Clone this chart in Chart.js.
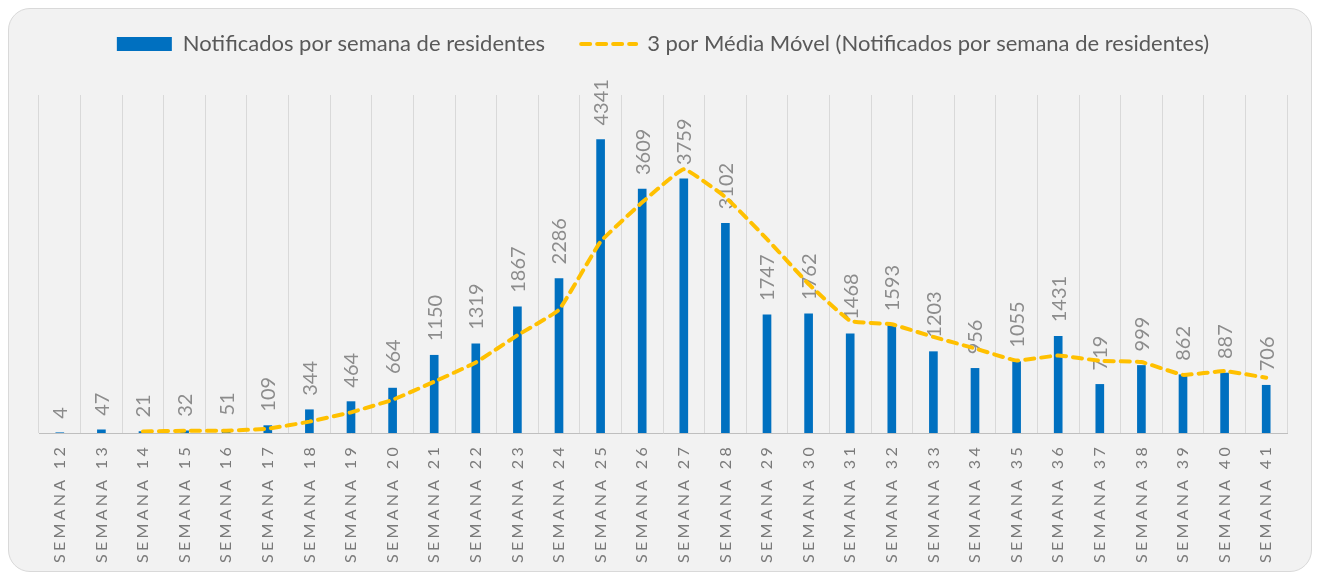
<!DOCTYPE html>
<html><head><meta charset="utf-8">
<script src="https://cdn.jsdelivr.net/npm/chart.js@4.4.1/dist/chart.umd.min.js"></script>
<style>
html,body{margin:0;padding:0;background:#fff;}
#box{position:absolute;left:8px;top:8px;width:1302px;height:562px;background:#f2f2f2;border:1px solid #d9d9d9;border-radius:22px;}
canvas{display:block;}
</style></head><body>
<div id="box"><canvas id="c"></canvas></div>
<script>
const categories = ['SEMANA 12','SEMANA 13','SEMANA 14','SEMANA 15','SEMANA 16','SEMANA 17','SEMANA 18','SEMANA 19','SEMANA 20','SEMANA 21','SEMANA 22','SEMANA 23','SEMANA 24','SEMANA 25','SEMANA 26','SEMANA 27','SEMANA 28','SEMANA 29','SEMANA 30','SEMANA 31','SEMANA 32','SEMANA 33','SEMANA 34','SEMANA 35','SEMANA 36','SEMANA 37','SEMANA 38','SEMANA 39','SEMANA 40','SEMANA 41'];
const notificados = [4,47,21,32,51,109,344,464,664,1150,1319,1867,2286,4341,3609,3759,3102,1747,1762,1468,1593,1203,956,1055,1431,719,999,862,887,706];
const mediaMovel = [null,null,24,33,35,64,168,306,491,759,1044,1445,1824,2831,3412,3903,3490,2869,2204,1659,1608,1421,1251,1071,1147,1068,1050,860,916,818];
const seriesNames = ['Notificados por semana de residentes','3 por Média Móvel (Notificados por semana de residentes)'];
const yMin = 0, yMax = 5000;

const FONT = 'Lato';

const barLabels = {
  id: 'barLabels',
  afterDatasetDraw(chart, args) {
    if (args.index !== 0) return;
    const ctx = chart.ctx;
    const meta = chart.getDatasetMeta(0);
    ctx.save();
    ctx.font = '20px ' + FONT;
    ctx.fillStyle = '#8c8c8c';
    ctx.textAlign = 'left';
    ctx.textBaseline = 'middle';
    meta.data.forEach((el, i) => {
      ctx.save();
      ctx.translate(el.x, el.y - 14);
      ctx.rotate(-Math.PI / 2);
      ctx.fillText(String(notificados[i]), 0, 1);
      ctx.restore();
    });
    ctx.restore();
  }
};

const xLabels = {
  id: 'xLabels',
  afterDraw(chart) {
    const ctx = chart.ctx;
    const xs = chart.scales.x;
    ctx.save();
    ctx.font = '16px ' + FONT;
    ctx.fillStyle = '#7a7a7a';
    ctx.textAlign = 'right';
    ctx.textBaseline = 'middle';
    ctx.letterSpacing = '3.3px';
    categories.forEach((lab, i) => {
      const x = xs.getPixelForTick(i);
      ctx.save();
      ctx.translate(x, xs.top + 11);
      ctx.rotate(-Math.PI / 2);
      ctx.fillText(lab, 0, 0);
      ctx.restore();
    });
    ctx.restore();
  }
};

new Chart(document.getElementById('c'), {
  data: {
    labels: categories,
    datasets: [
      {
        type: 'bar',
        label: seriesNames[0],
        data: notificados,
        backgroundColor: '#0070c0',
        borderWidth: 0,
        barThickness: 8,
        order: 2
      },
      {
        type: 'line',
        label: seriesNames[1],
        data: mediaMovel,
        borderColor: '#ffc000',
        backgroundColor: '#ffc000',
        borderWidth: 4,
        borderDash: [9, 7],
        borderCapStyle: 'round',
        pointRadius: 0,
        pointHoverRadius: 0,
        tension: 0.1,
        fill: false,
        spanGaps: false,
        order: 1
      }
    ]
  },
  plugins: [barLabels, xLabels],
  options: {
    responsive: true,
    maintainAspectRatio: false,
    animation: false,
    layout: { padding: { top: -12, left: 30, right: 24, bottom: 0 } },
    plugins: {
      tooltip: { enabled: false },
      legend: {
        display: true,
        position: 'top',
        labels: {
          usePointStyle: true,
          pointStyleWidth: 55,
          boxHeight: 14,
          padding: 36,
          color: '#595959',
          font: { family: FONT, size: 22 },
          generateLabels(chart) {
            return [
              { text: seriesNames[0], fillStyle: '#0070c0', strokeStyle: '#0070c0', lineWidth: 0, pointStyle: 'rect', datasetIndex: 0, fontColor: '#595959' },
              { text: seriesNames[1], fillStyle: '#ffc000', strokeStyle: '#ffc000', lineWidth: 4, lineDash: [9, 7], lineCap: 'round', pointStyle: 'line', datasetIndex: 1, fontColor: '#595959' }
            ];
          }
        }
      }
    },
    scales: {
      x: {
        type: 'category',
        offset: true,
        grid: { display: true, offset: true, color: '#d9d9d9', lineWidth: 1, drawTicks: false },
        border: { display: true, color: '#bfbfbf', width: 1 },
        ticks: { display: false },
        afterFit(s) { s.height = 138; }
      },
      xTop: {
        type: 'category',
        position: 'top',
        display: true,
        grid: { display: false, drawTicks: false },
        border: { display: false },
        ticks: { display: false },
        afterFit(s) { s.height = 30; }
      },
      y: {
        display: false,
        min: yMin,
        max: yMax
      }
    }
  }
});
</script>
</body></html>
